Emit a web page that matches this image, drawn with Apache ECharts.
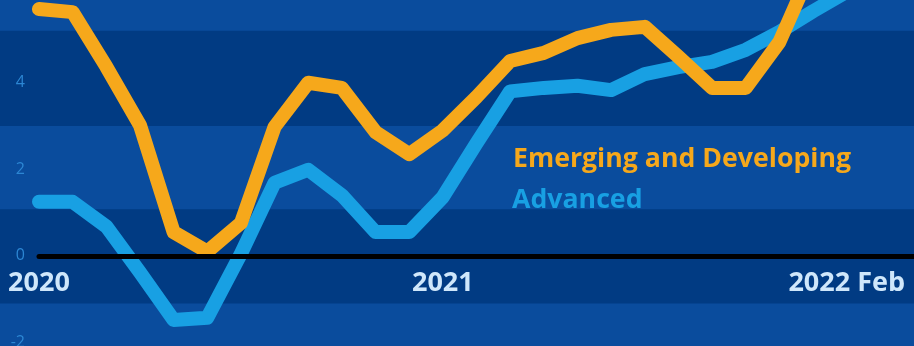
<!DOCTYPE html>
<html>
<head>
<meta charset="utf-8">
<style>
  html, body { margin: 0; padding: 0; background: #013b83; }
  #chart { width: 914px; height: 346px; }
</style>
<script src="https://cdn.jsdelivr.net/npm/echarts@6/dist/echarts.min.js"></script>
</head>
<body>
<div id="chart"></div>
<script>
// Monthly inflation, percent, Feb 2020 – Feb 2022
const months = [
  '2020-02','2020-03','2020-04','2020-05','2020-06','2020-07','2020-08','2020-09','2020-10','2020-11','2020-12',
  '2021-01','2021-02','2021-03','2021-04','2021-05','2021-06','2021-07','2021-08','2021-09','2021-10','2021-11','2021-12',
  '2022-01','2022-02'
];
const emerging = [5.70, 5.63, 4.37, 3.02, 0.55, 0.10, 0.76, 2.98, 4.00, 3.88, 2.86, 2.35, 2.90,
                  3.67, 4.50, 4.69, 5.03, 5.22, 5.29, 4.60, 3.88, 3.88, 4.94, 6.70, 7.40];
const advanced = [1.25, 1.25, 0.68, -0.38, -1.48, -1.43, 0.05, 1.69, 1.99, 1.40, 0.55, 0.55, 1.36,
                  2.60, 3.80, 3.88, 3.93, 3.83, 4.20, 4.36, 4.48, 4.76, 5.17, 5.65, 6.10];

// Axis tick labels
const xTickIndex = [0, 12, 24];
const xTickText = ['2020', '2021', '2022 Feb'];
const yTickLabels = [-2, 0, 2, 4];

const Y_MIN = -2.08, Y_MAX = 5.91;
const X_MAX = 26;

const DARK = '#013b83';
const LIGHT = '#0a4c9d';
const ORANGE = '#f6a81b';
const BLUE = '#18a0e3';
const FONT = 'Open Sans';

const pairs = arr => arr.map((v, i) => [i, v]);

const chart = echarts.init(document.getElementById('chart'), null, { renderer: 'canvas' });

// height of the area below the zero line, so the time axis sits on y = 0
const zeroFromBottom = 346 * (0 - Y_MIN) / (Y_MAX - Y_MIN);

chart.setOption({
  backgroundColor: DARK,
  animation: false,
  grid: [
    // full-width grid for the horizontal bands
    { left: 0, right: 0, top: 0, bottom: 0, containLabel: false, outerBoundsMode: 'none' },
    // plot grid
    { left: 39, right: 0, top: 0, bottom: 0, containLabel: false, outerBoundsMode: 'none' },
    // time axis grid, its bottom edge on the zero line
    { left: 39, right: 0, top: 0, bottom: zeroFromBottom, containLabel: false, outerBoundsMode: 'none' }
  ],
  xAxis: [
    { gridIndex: 0, type: 'value', min: 0, max: 1, show: false },
    { gridIndex: 1, type: 'value', min: 0, max: X_MAX, show: false },
    {
      gridIndex: 2, type: 'value', min: 0, max: X_MAX, interval: 12, position: 'bottom', z: 10,
      axisLine: { show: true, onZero: false, lineStyle: { color: '#000000', width: 5 } },
      axisTick: { show: false },
      splitLine: { show: false },
      axisLabel: {
        show: true, margin: 14, showMaxLabel: false, showMinLabel: true,
        color: '#cfe7fb', fontFamily: FONT, fontWeight: 'bold', fontSize: 27,
        formatter: v => {
          const k = xTickIndex.indexOf(v);
          return k >= 0 ? xTickText[k] : '';
        }
      }
    }
  ],
  yAxis: [
    { gridIndex: 0, type: 'value', min: Y_MIN, max: Y_MAX, show: false },
    {
      gridIndex: 1, type: 'value', min: Y_MIN, max: Y_MAX, z: 10,
      axisLine: { show: false },
      axisTick: { show: false },
      splitLine: { show: false },
      axisLabel: {
        margin: 14, color: '#2c86d3', fontFamily: FONT, fontSize: 16,
        customValues: yTickLabels,
        padding: [0, 0, 6, 0],
        formatter: v => String(Math.round(v))
      }
    },
    { gridIndex: 2, type: 'value', min: 0, max: 1, show: false }
  ],
  series: [
    {
      type: 'line', xAxisIndex: 0, yAxisIndex: 0, data: [], silent: true, z: 0,
      markArea: {
        silent: true,
        itemStyle: { color: LIGHT },
        data: [
          [{ yAxis: 5.2 }, { yAxis: Y_MAX }],
          [{ yAxis: 1.08 }, { yAxis: 3.0 }],
          [{ yAxis: Y_MIN }, { yAxis: -1.1 }]
        ]
      }
    },
    {
      name: 'Advanced', type: 'line', xAxisIndex: 1, yAxisIndex: 1, z: 5,
      data: pairs(advanced), showSymbol: false, symbol: 'none', clip: true,
      lineStyle: { color: BLUE, width: 14, cap: 'round', join: 'round' }
    },
    {
      name: 'Emerging and Developing', type: 'line', xAxisIndex: 1, yAxisIndex: 1, z: 6,
      data: pairs(emerging), showSymbol: false, symbol: 'none', clip: true,
      lineStyle: { color: ORANGE, width: 14, cap: 'round', join: 'round' }
    }
  ],
  graphic: [
    {
      type: 'text', x: 513, y: 159, silent: true, z: 100,
      style: { text: 'Emerging and Developing', fill: ORANGE, fontFamily: FONT, fontWeight: 'bold', fontSize: 26.7, verticalAlign: 'middle' }
    },
    {
      type: 'text', x: 512, y: 200, silent: true, z: 100,
      style: { text: 'Advanced', fill: BLUE, fontFamily: FONT, fontWeight: 'bold', fontSize: 26.7, verticalAlign: 'middle' }
    }
  ]
});
</script>
</body>
</html>
